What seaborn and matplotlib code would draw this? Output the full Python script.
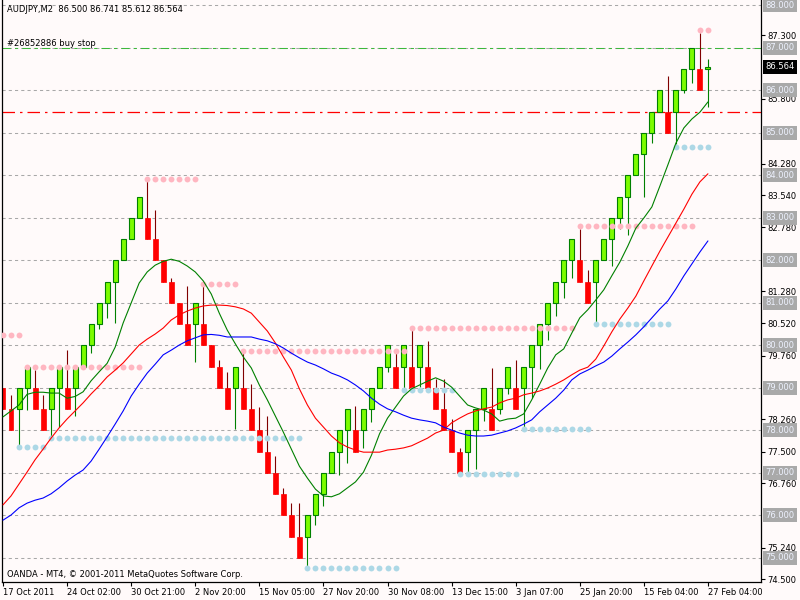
import numpy as np
import pandas as pd
import matplotlib
matplotlib.use('Agg')
import matplotlib.pyplot as plt
import matplotlib.transforms as mtransforms
import seaborn as sns

sns.set_style('white')
plt.rcParams['font.family'] = ['DejaVu Sans']

# --- chart data ---
opens = [79, 78.5, 78.5, 79, 79, 78.5, 78.5, 79, 79, 79,
         79.5, 80, 80.5, 81, 81.5, 82, 82.5, 83, 83, 82.5,
         82, 81.5, 81, 80.5, 80.5, 80.5, 80, 79.5, 79, 79,
         79, 78.5, 78, 77.5, 77, 76.5, 76, 75.5, 75.5, 76,
         76.5, 77, 77.5, 78, 78, 78, 78.5, 79, 79.5, 79.5,
         79.5, 79.5, 79.5, 79.5, 79, 78.5, 78, 77.5, 77.5, 78,
         78.5, 78.5, 78.5, 79, 79, 79, 79.5, 80, 80.5, 81,
         81.5, 82, 82, 81.5, 81.5, 82, 82.5, 83, 83.5, 84,
         84.5, 85, 85.5, 85.5, 85.5, 86, 86.5, 86.5, 86.5]
closes = [78.5, 78, 79, 79.5, 78.5, 78, 79, 79.5, 78.5, 79.5,
          80, 80.5, 81, 81.5, 82, 82.5, 83, 83.5, 82.5, 82,
          81.5, 81, 80.5, 80, 81, 80, 79.5, 79, 78.5, 79.5,
          78.5, 78, 77.5, 77, 76.5, 76, 75.5, 75, 76, 76.5,
          77, 77.5, 78, 78.5, 77.5, 78.5, 79, 79.5, 80, 79,
          80, 79, 80, 79, 78.5, 78, 77.5, 77, 78, 78.5,
          79, 78, 79, 79.5, 78.5, 79.5, 80, 80.5, 81, 81.5,
          82, 82.5, 81.5, 81, 82, 82.5, 83, 83.5, 84, 84.5,
          85, 85.5, 86, 85, 86, 86.5, 87, 86, 86.564]
highs = [79, 78.84, 79, 79.5, 79.42, 78.84, 79, 79.5, 79.89, 79.5,
         80, 80.5, 81, 81.5, 82, 82.5, 83, 83.5, 83.86, 83.19,
         82, 81.59, 81, 81.39, 81, 81.46, 80, 79.66, 79.38, 79.5,
         79.82, 79.09, 78.56, 78.34, 77.4, 76.64, 76.29, 76.29, 76, 76.5,
         77, 77.5, 78, 78.5, 78.58, 78.5, 79, 79.5, 80, 79.85,
         80, 80.36, 80, 80.11, 79.2, 79.2, 78.26, 77.58, 78, 78.5,
         79, 79.46, 79, 79.5, 79.67, 79.5, 80, 80.5, 81, 81.5,
         82, 82.5, 82.73, 81.78, 82, 82.5, 83, 83.5, 84, 84.5,
         85, 85.5, 86, 86.33, 86, 86.5, 87, 87.36, 86.741]
lows = [78.5, 78, 77.65, 78.48, 78.5, 78, 77.85, 78.09, 78.5, 78.34,
        79.5, 79.83, 80.39, 80.65, 80.54, 82, 82.5, 83, 82.5, 82,
        81.5, 81, 80.5, 80, 79.6, 80, 79.5, 79, 78.5, 78.03,
        78.5, 78, 77.5, 77, 76.5, 76, 75.5, 75, 74.81, 75.78,
        76.22, 77, 76.95, 77.24, 77.5, 77.58, 78.21, 79, 79.38, 79,
        78.99, 79, 79.03, 79, 78.5, 78, 77.5, 77, 77.03, 77.09,
        78.23, 78, 78.38, 78.87, 78.5, 78.09, 78.76, 79.44, 80.13, 80.69,
        81.11, 81.58, 81.5, 81, 80.56, 82, 81.86, 82.73, 82.6, 84,
        83.5, 84.77, 85.5, 85, 84.73, 85.93, 86.18, 86, 85.612]

ma_fast = [78.32, 78.46, 78.6, 78.85, 78.9, 78.9, 78.88, 78.88, 78.76, 78.8,
           78.91, 79.17, 79.38, 79.58, 79.96, 80.53, 81.0, 81.47, 81.73, 81.89,
           81.98, 82.03, 81.98, 81.87, 81.73, 81.52, 81.21, 80.76, 80.36, 80.04,
           79.73, 79.47, 79.07, 78.72, 78.34, 77.96, 77.56, 77.16, 76.88, 76.62,
           76.46, 76.44, 76.51, 76.65, 76.79, 77.02, 77.42, 77.92, 78.29, 78.55,
           78.81, 78.98, 79.07, 79.16, 79.24, 79.16, 79.02, 78.81, 78.6, 78.53,
           78.48, 78.39, 78.22, 78.27, 78.29, 78.39, 78.72, 79.09, 79.47, 79.78,
           79.92, 80.29, 80.65, 80.84, 81.07, 81.31, 81.64, 81.96, 82.34, 82.76,
           83.0, 83.26, 83.75, 84.25, 84.76, 85.12, 85.33, 85.49, 85.73]
ma_mid = [76.25, 76.46, 76.74, 77.02, 77.31, 77.56, 77.82, 78.06, 78.27, 78.46,
          78.65, 78.86, 79.05, 79.26, 79.42, 79.59, 79.8, 80.01, 80.15, 80.27,
          80.41, 80.6, 80.72, 80.81, 80.88, 80.93, 80.95, 80.95, 80.94, 80.91,
          80.86, 80.76, 80.55, 80.34, 80.06, 79.73, 79.42, 78.98, 78.6, 78.29,
          78.08, 77.87, 77.71, 77.61, 77.54, 77.49, 77.49, 77.49, 77.54, 77.56,
          77.59, 77.64, 77.73, 77.82, 77.94, 78.01, 78.18, 78.29, 78.39, 78.46,
          78.51, 78.55, 78.65, 78.72, 78.76, 78.84, 78.88, 78.93, 79.0, 79.09,
          79.19, 79.31, 79.42, 79.49, 79.68, 79.99, 80.32, 80.62, 80.88, 81.16,
          81.52, 81.87, 82.22, 82.55, 82.88, 83.21, 83.56, 83.85, 84.04]
ma_slow = [75.89, 76.01, 76.18, 76.29, 76.36, 76.41, 76.51, 76.65, 76.81, 76.95,
           77.07, 77.28, 77.56, 77.85, 78.15, 78.46, 78.81, 79.09, 79.35, 79.56,
           79.78, 79.89, 80.01, 80.11, 80.18, 80.25, 80.26, 80.24, 80.2, 80.2,
           80.2, 80.2, 80.15, 80.11, 80.04, 79.94, 79.82, 79.71, 79.61, 79.54,
           79.45, 79.35, 79.28, 79.19, 79.07, 78.93, 78.76, 78.62, 78.51, 78.44,
           78.36, 78.29, 78.25, 78.22, 78.18, 78.08, 78.01, 77.94, 77.89, 77.87,
           77.87, 77.89, 77.94, 77.99, 78.06, 78.15, 78.25, 78.44, 78.6, 78.76,
           78.95, 79.19, 79.33, 79.42, 79.52, 79.61, 79.75, 79.92, 80.08, 80.25,
           80.44, 80.65, 80.86, 81.05, 81.33, 81.64, 81.92, 82.2, 82.46]

# dotted resistance / support levels: level, first bar, last bar
res_levels = [80.25, 79.49, 83.91, 81.45, 79.88, 80.41, 82.81, 87.42]
res_first = [0, 3, 18, 25, 30, 51, 72, 87]
res_last = [2, 17, 24, 29, 50, 71, 86, 88]
sup_levels = [77.62, 77.82, 74.76, 78.95, 76.97, 78.03, 80.51, 84.68]
sup_first = [2, 6, 38, 50, 57, 65, 74, 84]
sup_last = [5, 37, 49, 56, 64, 73, 83, 88]

date_ticks = [0, 8, 16, 24, 32, 40, 48, 56, 64, 72, 80, 88]
date_labels = ['17 Oct 2011', '24 Oct 02:00', '30 Oct 21:00', '2 Nov 20:00',
               '15 Nov 05:00', '27 Nov 20:00', '30 Nov 08:00', '13 Dec 15:00',
               '3 Jan 07:00', '25 Jan 20:00', '15 Feb 04:00', '27 Feb 04:00']
price_ticks = [87.3, 85.8, 84.28, 83.54, 82.78, 81.28, 80.52, 79.76,
               78.26, 77.5, 76.76, 75.24, 74.5]
grid_levels = list(range(75, 89))
order_level = 87.0
stop_level = 85.5
last_price = 86.564

title_text = 'AUDJPY,M2  86.500 86.741 85.612 86.564'
order_text = '#26852886 buy stop'
footer_text = 'OANDA - MT4, \u00a9 2001-2011 MetaQuotes Software Corp.'

# --- frame ---
bg = '#fffafa'
fig = plt.figure(figsize=(8, 6), dpi=100, facecolor=bg)
ax = fig.add_axes([2 / 800, 18 / 600, 759 / 800, 582 / 600])
ax.set_facecolor(bg)
ax.set_xlim(-0.125, 94.625)
ax.set_ylim(74.435, 88.129)

df = pd.DataFrame({'bar': np.arange(len(opens)), 'open': opens, 'close': closes,
                   'high': highs, 'low': lows,
                   'fast': ma_fast, 'mid': ma_mid, 'slow': ma_slow})
df['up'] = df['close'] >= df['open']

# grid and order lines
for lvl in grid_levels:
    ax.axhline(lvl, color='#a8a8a8', lw=0.75, ls=(0, (3, 3)), zorder=1)
ax.axhline(order_level, color='#3cb83c', lw=0.75, ls=(0, (8, 4, 3, 4)), zorder=1.5)
ax.axhline(stop_level, color='#ff0000', lw=0.9, ls=(0, (10, 4, 2, 4)), zorder=1.5)

# candles
up = df[df['up']]
dn = df[~df['up']]
ax.vlines(up['bar'], up['low'], up['high'], color='#008000', lw=0.8, zorder=2)
ax.vlines(dn['bar'], dn['low'], dn['high'], color='#800000', lw=0.8, zorder=2)
ax.bar(up['bar'], up['close'] - up['open'], bottom=up['open'], width=0.62,
       color='#7cfc00', edgecolor='#008000', linewidth=0.8, zorder=2.5)
ax.bar(dn['bar'], dn['open'] - dn['close'], bottom=dn['close'], width=0.62,
       color='#ff0000', edgecolor='#ff0000', linewidth=0.5, zorder=2.5)

# level dots
rx, ry, sx, sy = [], [], [], []
for lvl, a, b in zip(res_levels, res_first, res_last):
    for i in range(a, b + 1):
        rx.append(i)
        ry.append(lvl)
for lvl, a, b in zip(sup_levels, sup_first, sup_last):
    for i in range(a, b + 1):
        sx.append(i)
        sy.append(lvl)
sns.scatterplot(x=rx, y=ry, color='#ffb6c1', s=18, linewidth=0, ax=ax, zorder=3)
sns.scatterplot(x=sx, y=sy, color='#add8e6', s=18, linewidth=0, ax=ax, zorder=3)

# moving averages
sns.lineplot(data=df, x='bar', y='fast', color='#008000', lw=0.8, ax=ax, zorder=4)
sns.lineplot(data=df, x='bar', y='mid', color='#ff0000', lw=0.8, ax=ax, zorder=4)
sns.lineplot(data=df, x='bar', y='slow', color='#0000ff', lw=0.8, ax=ax, zorder=4)

# axes styling
for side in ['left', 'bottom', 'right']:
    ax.spines[side].set_visible(True)
    ax.spines[side].set_color('black')
    ax.spines[side].set_linewidth(0.9)
ax.spines['top'].set_visible(False)
ax.set_xlabel('')
ax.set_ylabel('')

ax.set_xticks(date_ticks)
ax.set_xticklabels(date_labels, fontsize=6)
for lab in ax.get_xticklabels():
    lab.set_horizontalalignment('left')
ax.yaxis.tick_right()
ax.set_yticks(price_ticks)
ax.set_yticklabels(['%.3f' % p for p in price_ticks], fontsize=6)
ax.tick_params(axis='x', bottom=True, direction='out', length=3, width=0.8, pad=1.5,
               colors='black')
ax.tick_params(axis='y', right=True, left=False, direction='out', length=3, width=0.8,
               pad=1.5, colors='black')

# boxed price labels on the scale
tr = mtransforms.blended_transform_factory(ax.transAxes, ax.transData)
x0 = 1 + 4 / 759
for lvl in grid_levels:
    ax.text(x0, lvl, '%.3f' % lvl, transform=tr, ha='left', va='center', fontsize=6,
            color='#eef2ff', clip_on=False, zorder=6,
            bbox=dict(boxstyle='square,pad=0.3', fc='#a9a9a9', ec='none'))
ax.text(x0, last_price, '%.3f' % last_price, transform=tr, ha='left', va='center',
        fontsize=6, color='white', clip_on=False, zorder=7,
        bbox=dict(boxstyle='square,pad=0.3', fc='black', ec='none'))

# chart texts
ax.text(5 / 759, 0.983, title_text, transform=ax.transAxes, ha='left', va='center',
        fontsize=6, color='black')
ax.text(5 / 759, 87.1, order_text, transform=tr, ha='left', va='center',
        fontsize=6, color='black')
ax.text(5 / 759, 0.013, footer_text, transform=ax.transAxes, ha='left', va='center',
        fontsize=6, color='black')

fig.savefig('out.png', dpi=100, facecolor=bg)
